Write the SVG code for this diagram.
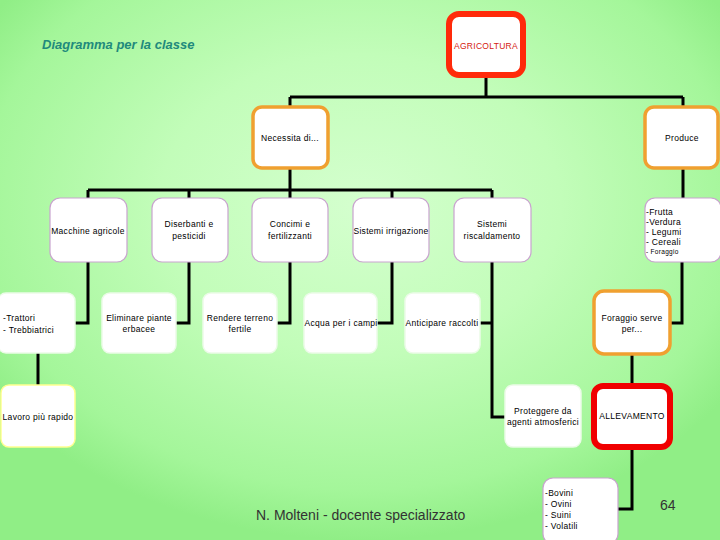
<svg xmlns="http://www.w3.org/2000/svg" width="720" height="540" viewBox="0 0 720 540">
<defs>
<radialGradient id="bg" cx="0.5" cy="0.38" r="0.62">
<stop offset="0" stop-color="#d4ffce"/>
<stop offset="0.45" stop-color="#c2fdb9"/>
<stop offset="0.85" stop-color="#a4f69a"/>
<stop offset="1" stop-color="#90ee86"/>
</radialGradient>
<style>
.c{fill:none;stroke:#000;stroke-width:3}
.t{font-family:"Liberation Sans",Arial,sans-serif;font-size:8.5px;fill:#000;text-anchor:middle;dominant-baseline:central;letter-spacing:0.3px}
.l{text-anchor:start}
.p{fill:#fff;stroke:#c9a3cf;stroke-width:1.2}
.w{fill:#fff;stroke:#ecfbe8;stroke-width:1.5}
.o{fill:#fff;stroke:#f0a030;stroke-width:3.5}
.r{fill:#fff;stroke:#ff2a0a;stroke-width:6}
.y{fill:#fff;stroke:#ffff90;stroke-width:1.5}
</style>
</defs>
<rect width="720" height="540" fill="url(#bg)"/>
<text x="42" y="49" font-family="Liberation Sans,Arial,sans-serif" font-size="13" font-weight="bold" font-style="italic" fill="#1f8a7c">Diagramma per la classe</text>
<g id="connectors">
<path class="c" d="M486,77V97M290,97H683M290,97V107M683,97V107"/>
<path class="c" d="M290,168V190M88,190H492M88,190V198M189,190V198M290,190V198M392,190V198M492,190V198"/>
<path class="c" d="M683,168V198"/>
<path class="c" d="M88,262V323H75M189,262V323H176M290,262V323H277M392,262V323H377M492,262V417H505M492,323H480"/>
<path class="c" d="M682,262V323H670M632,355V383M632,450V509H618M38,353V385"/>
</g>
<g id="agricoltura"><rect class="r" x="449" y="14" width="74" height="61" rx="10"/><text class="t" x="486" y="46" style="fill:#d42010">AGRICOLTURA</text></g>
<g id="necessita"><rect class="o" x="253" y="107" width="75" height="61" rx="9"/><text class="t" x="290" y="138">Necessita di...</text></g>
<g id="produce"><rect class="o" x="645" y="107" width="73" height="61" rx="9"/><text class="t" x="682" y="138">Produce</text></g>
<g id="macchine"><rect class="p" x="50" y="198" width="77" height="64" rx="10"/><text class="t" x="88" y="231">Macchine agricole</text></g>
<g id="diserbanti"><rect class="p" x="152" y="198" width="76" height="64" rx="10"/><text class="t" x="189" y="224">Diserbanti e</text><text class="t" x="189" y="236">pesticidi</text></g>
<g id="concimi"><rect class="p" x="252" y="198" width="76" height="64" rx="10"/><text class="t" x="290" y="224">Concimi e</text><text class="t" x="290" y="236">fertilizzanti</text></g>
<g id="irrigazione"><rect class="p" x="353" y="198" width="76" height="64" rx="10"/><text class="t" x="391" y="231">Sistemi irrigazione</text></g>
<g id="riscaldamento"><rect class="p" x="454" y="198" width="77" height="64" rx="10"/><text class="t" x="492" y="224">Sistemi</text><text class="t" x="492" y="236">riscaldamento</text></g>
<g id="frutta"><rect class="p" x="645" y="198" width="76" height="64" rx="10"/>
<text class="t l" x="646" y="212">-Frutta</text><text class="t l" x="646" y="222">-Verdura</text><text class="t l" x="646" y="232">- Legumi</text><text class="t l" x="646" y="242">- Cereali</text><text class="t l" x="646" y="251" style="font-size:6.5px">- Foraggio</text></g>
<g id="trattori"><rect class="w" x="-2" y="293" width="77" height="60" rx="8"/><text class="t l" x="3" y="318">-Trattori</text><text class="t l" x="3" y="330">-  Trebbiatrici</text></g>
<g id="eliminare"><rect class="w" x="102" y="293" width="74" height="60" rx="8"/><text class="t" x="139" y="318">Eliminare piante</text><text class="t" x="139" y="329">erbacee</text></g>
<g id="rendere"><rect class="w" x="203" y="293" width="74" height="60" rx="8"/><text class="t" x="240" y="318">Rendere terreno</text><text class="t" x="240" y="329">fertile</text></g>
<g id="acqua"><rect class="w" x="304" y="293" width="73" height="60" rx="8"/><text class="t" x="341" y="323">Acqua per i campi</text></g>
<g id="anticipare"><rect class="w" x="405" y="293" width="75" height="60" rx="8"/><text class="t" x="442" y="323">Anticipare raccolti</text></g>
<g id="foraggio"><rect class="o" x="594" y="291" width="76" height="63" rx="10"/><text class="t" x="632" y="318">Foraggio serve</text><text class="t" x="632" y="329">per...</text></g>
<g id="lavoro"><rect class="y" x="1" y="385" width="74" height="62" rx="8"/><text class="t" x="38" y="417">Lavoro più rapido</text></g>
<g id="proteggere"><rect class="w" x="505" y="385" width="76" height="62" rx="8"/><text class="t" x="543" y="411">Proteggere da</text><text class="t" x="543" y="422">agenti atmosferici</text></g>
<g id="allevamento"><rect class="r" x="594" y="386" width="76" height="61" rx="9" style="stroke:#f00000"/><text class="t" x="632" y="416">ALLEVAMENTO</text></g>
<g id="bovini"><rect class="p" x="543" y="478" width="75" height="66" rx="10"/>
<text class="t l" x="545" y="493">-Bovini</text><text class="t l" x="545" y="504">-  Ovini</text><text class="t l" x="545" y="515">-  Suini</text><text class="t l" x="545" y="526">-  Volatili</text></g>
<text x="256" y="520" font-family="Liberation Sans,Arial,sans-serif" font-size="14" fill="#333">N. Molteni - docente specializzato</text>
<text x="660" y="510" font-family="Liberation Sans,Arial,sans-serif" font-size="14" fill="#333">64</text>
</svg>
